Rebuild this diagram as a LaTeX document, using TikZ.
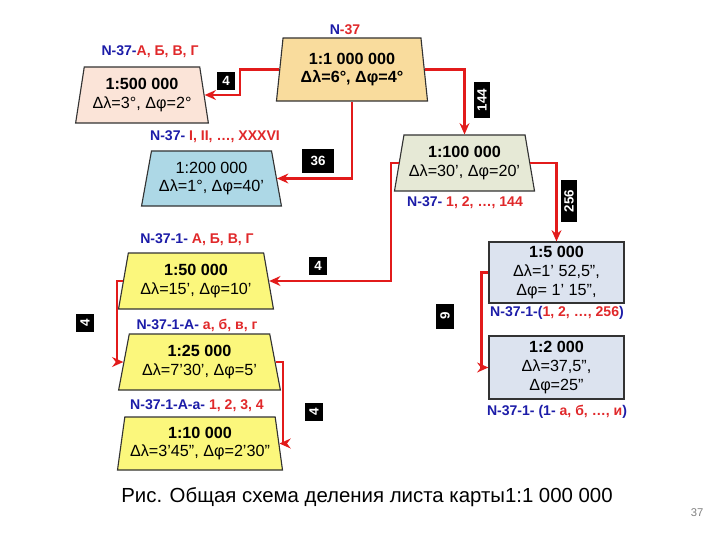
\documentclass[tikz,border=0pt]{standalone}
\usepackage{fontspec}
\setmainfont{Liberation Sans}
\usetikzlibrary{shapes}
\usetikzlibrary{positioning}
\usetikzlibrary{arrows.meta}
\definecolor{lblblue}{HTML}{1C1CA8}
\definecolor{lblred}{HTML}{E0282A}
\definecolor{arrred}{HTML}{E21B1B}
\definecolor{fillmil}{HTML}{F9DC9D}
\definecolor{fillfiveh}{HTML}{FBE4D8}
\definecolor{filltwoh}{HTML}{ADD8E6}
\definecolor{fillhund}{HTML}{E6E9D6}
\definecolor{fillyel}{HTML}{FBF77C}
\definecolor{fillrect}{HTML}{DCE3EF}
\newcommand{\nlab}[2]{\textcolor{lblblue}{#1}\textcolor{lblred}{#2}}
\tikzset{
    mytrap/.style = {trapezium, trapezium stretches=true, thick, draw=black!80, align=center, inner sep=1pt, font=\fontsize{11.5}{13}\selectfont},
    myrect/.style = {rectangle, thick, draw=black!80, align=center, fill=fillrect, inner sep=1.5pt, minimum width=3.375cm, font=\fontsize{11.5}{13.5}\selectfont},
    numbox/.style = {rectangle, fill=black, text=white, inner sep=1pt, minimum width=0.45cm, minimum height=0.45cm, font=\bfseries\fontsize{9.5}{11}\selectfont},
    lbl/.style = {inner sep=0pt, font=\bfseries\fontsize{10}{11}\selectfont},
    edger/.style = {-{Stealth[length=8pt,width=7pt]}, line width=1.6pt, arrred}
}
\begin{document}
\begin{tikzpicture}[x=0.025cm, y=-0.025cm]
  \useasboundingbox (0,0) rectangle (720,540);
  % sheets
  \node[mytrap, fill=fillmil, minimum width=3.8cm, minimum height=1.575cm, trapezium left angle=82, trapezium right angle=82, font=\bfseries\fontsize{11.5}{13}\selectfont] (n1m) at (352,69.5) {1:1 000 000\\Δλ=6°, Δφ=4°};
  \node[mytrap, fill=fillfiveh, minimum width=3.325cm, minimum height=1.4cm, trapezium left angle=78, trapezium right angle=78] (n500k) at (142,95) {\textbf{1:500 000}\\Δλ=3°, Δφ=2°};
  \node[mytrap, fill=filltwoh, minimum width=3.525cm, minimum height=1.375cm, trapezium left angle=76, trapezium right angle=76] (n200k) at (211.5,178.5) {1:200 000\\Δλ=1°, Δφ=40’};
  \node[mytrap, fill=fillhund, minimum width=3.525cm, minimum height=1.4cm, trapezium left angle=76, trapezium right angle=76] (n100k) at (464.5,163) {\textbf{1:100 000}\\Δλ=30’, Δφ=20’};
  \node[mytrap, fill=fillyel, minimum width=3.9cm, minimum height=1.4cm, trapezium left angle=77, trapezium right angle=77] (n50k) at (196,281) {\textbf{1:50 000}\\Δλ=15’, Δφ=10’};
  \node[mytrap, fill=fillyel, minimum width=4.075cm, minimum height=1.4cm, trapezium left angle=76, trapezium right angle=76] (n25k) at (199.5,362) {\textbf{1:25 000}\\Δλ=7’30’, Δφ=5’};
  \node[mytrap, fill=fillyel, minimum width=4.125cm, minimum height=1.325cm, trapezium left angle=79, trapezium right angle=79] (n10k) at (200,443.5) {\textbf{1:10 000}\\Δλ=3’45”, Δφ=2’30”};
  \node[myrect, minimum height=1.525cm] (n5k) at (556.5,272.5) {\textbf{1:5 000}\\Δλ=1’ 52,5”,\\Δφ= 1’ 15”,};
  \node[myrect, minimum height=1.575cm] (n2k) at (556.5,367.5) {\textbf{1:2 000}\\Δλ=37,5”,\\Δφ=25”};

  % nomenclature
  \node[lbl] (t1m) at (345,30) {\nlab{N}{-37}};
  \node[lbl] (t500k) at (150,52) {\nlab{N-37-}{А, Б, В, Г}};
  \node[lbl] (t200k) at (215,137) {\nlab{N-37- }{I, II, …, XXXVI}};
  \node[lbl] (t100k) at (465,203) {\nlab{N-37- }{1, 2, …, 144}};
  \node[lbl] (t50k) at (197,240) {\nlab{N-37-1- }{А, Б, В, Г}};
  \node[lbl] (t25k) at (197,325) {\nlab{N-37-1-А- }{а, б, в, г}};
  \node[lbl] (t10k) at (197,406) {\nlab{N-37-1-А-а- }{1, 2, 3, 4}};
  \node[lbl] (t5k) at (557,313) {\nlab{N-37-1-(}{1, 2, …, 256}\textcolor{lblblue}{)}};
  \node[lbl] (t2k) at (557,412) {\nlab{N-37-1- (1- }{а, б, …, и}\textcolor{lblblue}{)}};

  % arrows
  \draw[edger] (n1m.west) -- ++(-39,0) |- (n500k.east);
  \draw[edger] (n1m.south) |- (n200k.east);
  \draw[edger] (n1m.east) -| (n100k.north);
  \draw[edger] (n100k.east) -| (n5k.north);
  \draw[edger] (n100k.west) -- ++(-8,0) |- (n50k.east);
  \draw[edger] (n50k.west) -- ++(-6,0) |- (n25k.west);
  \draw[edger] (n25k.east) -- ++(7,0) |- (n10k.east);
  \draw[edger] (n5k.west) -- ++(-7,0) |- (n2k.west);

  % counts
  \node[numbox] (k4a) at (226,81) {4};
  \node[numbox, minimum width=0.78cm, minimum height=0.6cm] (k36) at (318,161) {36};
  \node[numbox, rotate=90, minimum width=0.875cm, minimum height=0.4cm] (k144) at (482,100) {144};
  \node[numbox, rotate=90, minimum width=1.05cm, minimum height=0.4cm] (k256) at (569,201) {256};
  \node[numbox] (k4b) at (318,266) {4};
  \node[numbox, rotate=90] (k4c) at (85,323) {4};
  \node[numbox, rotate=90] (k4d) at (314,412) {4};
  \node[numbox, rotate=90, minimum width=0.625cm] (k9) at (445,316) {9};

  \node[font=\fontsize{14.5}{16}\selectfont] (cap) at (367,497) {Рис. Общая схема деления листа карты1:1 000 000};
  \node[text=gray, font=\fontsize{8}{9}\selectfont] (pnum) at (697,513) {37};
\end{tikzpicture}
\end{document}
